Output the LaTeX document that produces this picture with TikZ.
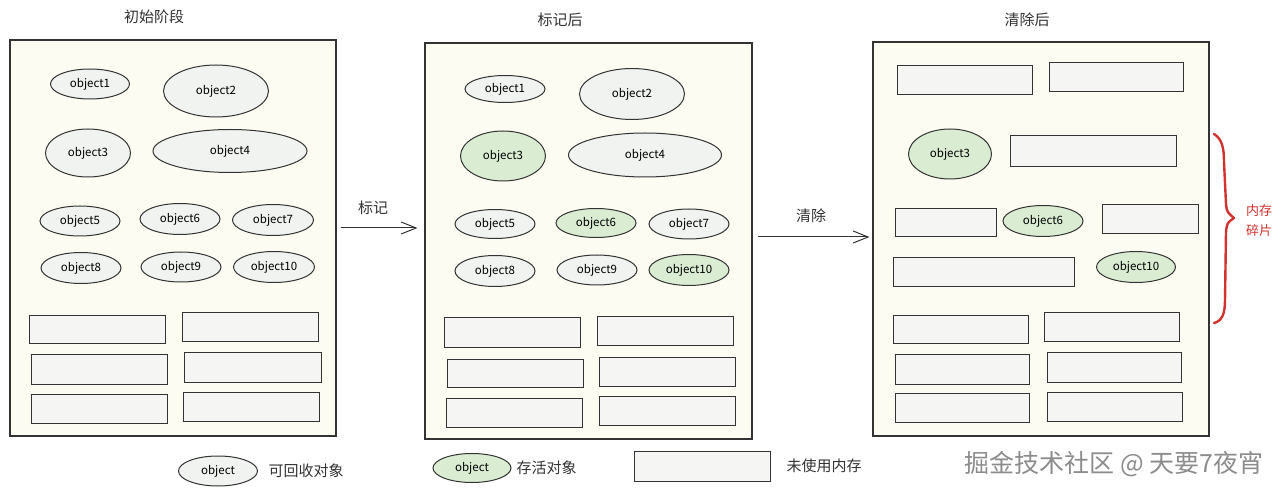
\documentclass[tikz,border=0pt]{standalone}
\usepackage{fontspec}
\setmainfont{Noto Sans CJK SC}
\usetikzlibrary{shapes.geometric,arrows.meta}
\definecolor{panelbg}{HTML}{FDFCF3}
\definecolor{objfill}{HTML}{F0F3F0}
\definecolor{livefill}{HTML}{DAEDD3}
\definecolor{freefill}{HTML}{F5F5F3}
\definecolor{inkc}{HTML}{333333}
\definecolor{bracec}{HTML}{D2332E}
\definecolor{wmark}{HTML}{8C8C8C}
\newcommand{\mkrect}[6]{\node[#2, minimum width={#5-#3}, minimum height={#6-#4}] (#1) at ({(#3+#5)/2},{(#4+#6)/2}) {};}
\newcommand{\mkobj}[7]{\node[#2, minimum width=#5, minimum height=#6] (#1) at (#3,#4) {#7};}
\begin{document}
\begin{tikzpicture}[x=1pt,y=-1pt,
  panel/.style={draw=inkc, line width=1.1pt, fill=panelbg, inner sep=0pt},
  freeblk/.style={draw=inkc, line width=1pt, fill=freefill, inner sep=0pt},
  obj/.style={ellipse, draw=inkc, line width=1pt, fill=objfill, inner sep=0pt, font=\fontsize{11.5}{13}\selectfont},
  live/.style={obj, fill=livefill},
  title/.style={font=\fontsize{15}{17}\selectfont, text=inkc},
  legtext/.style={font=\fontsize{15}{17}\selectfont, text=inkc, anchor=west},
  arr/.style={draw=inkc, line width=1pt, -{Straight Barb[length=15pt,width=12pt,line width=1pt]}},
  bracestyle/.style={draw=bracec, line width=2.4pt, line cap=round, line join=round}
]
\useasboundingbox (0,0) rectangle (1280,494);
\fill[white] (0,0) rectangle (1280,494);

% ---------- titles ----------
\node[title] (t1) at (154,17) {初始阶段};
\node[title] (t2) at (560,20) {标记后};
\node[title] (t3) at (1027,20) {清除后};

% ---------- panel 1 ----------
\mkrect{P1}{panel}{10}{40}{336}{436}
\mkobj{a1}{obj}{90}{84}{79}{30}{object1}
\mkobj{a2}{obj}{216}{91}{105}{52}{object2}
\mkobj{a3}{obj}{88}{153}{85}{48}{object3}
\mkobj{a4}{obj}{230}{151}{154}{43}{object4}
\mkobj{a5}{obj}{80}{221}{80}{30}{object5}
\mkobj{a6}{obj}{180}{219}{80}{31}{object6}
\mkobj{a7}{obj}{273}{220}{81}{31}{object7}
\mkobj{a8}{obj}{81}{268}{80}{31}{object8}
\mkobj{a9}{obj}{181}{267}{80}{30}{object9}
\mkobj{a10}{obj}{274}{267}{81}{31}{object10}
\mkrect{ar1}{freeblk}{29}{316}{165}{344}
\mkrect{ar2}{freeblk}{182}{313}{318}{342}
\mkrect{ar3}{freeblk}{31}{355}{167}{384}
\mkrect{ar4}{freeblk}{184}{353}{321}{382}
\mkrect{ar5}{freeblk}{31}{394}{167}{423}
\mkrect{ar6}{freeblk}{183}{392}{319}{421}

% ---------- panel 2 ----------
\mkrect{P2}{panel}{425}{43}{752}{439}
\mkobj{b1}{obj}{505}{89}{80}{27}{object1}
\mkobj{b2}{obj}{632}{94}{105}{51}{object2}
\mkobj{b3}{live}{503}{156}{85}{50}{object3}
\mkobj{b4}{obj}{645}{155}{153}{44}{object4}
\mkobj{b5}{obj}{495}{224}{80}{29}{object5}
\mkobj{b6}{live}{596}{223}{80}{29}{object6}
\mkobj{b7}{obj}{689}{224}{80}{30}{object7}
\mkobj{b8}{obj}{495}{271}{80}{31}{object8}
\mkobj{b9}{obj}{597}{270}{80}{30}{object9}
\mkobj{b10}{live}{689}{270}{80}{31}{object10}
\mkrect{br1}{freeblk}{444}{318}{580}{348}
\mkrect{br2}{freeblk}{597}{317}{733}{346}
\mkrect{br3}{freeblk}{447}{359}{583}{387}
\mkrect{br4}{freeblk}{599}{357}{735}{386}
\mkrect{br5}{freeblk}{446}{398}{582}{427}
\mkrect{br6}{freeblk}{599}{396}{735}{425}

% ---------- panel 3 ----------
\mkrect{P3}{panel}{873}{42}{1209}{436}
\mkrect{cr1}{freeblk}{897}{66}{1032}{95}
\mkrect{cr2}{freeblk}{1049}{63}{1183}{92}
\mkobj{c3}{live}{950}{154}{83}{50}{object3}
\mkrect{cr3}{freeblk}{1010}{136}{1176}{167}
\mkrect{cr4}{freeblk}{895}{209}{996}{237}
\mkobj{c6}{live}{1043}{221}{80}{31}{object6}
\mkrect{cr5}{freeblk}{1102}{205}{1198}{234}
\mkrect{cr6}{freeblk}{893}{258}{1074}{287}
\mkobj{c10}{live}{1136}{267}{79}{31}{object10}
\mkrect{cr7}{freeblk}{893}{316}{1028}{344}
\mkrect{cr8}{freeblk}{1044}{313}{1179}{342}
\mkrect{cr9}{freeblk}{895}{355}{1029}{384}
\mkrect{cr10}{freeblk}{1047}{353}{1181}{382}
\mkrect{cr11}{freeblk}{895}{393}{1029}{422}
\mkrect{cr12}{freeblk}{1047}{392}{1182}{421}

% ---------- arrows ----------
\coordinate (m1) at (0,228);
\coordinate (m2) at (0,237);
\draw[arr, shorten <=4pt, shorten >=7pt] (P1.east |- m1) -- (P2.west |- m1);
\draw[arr, shorten <=5pt, shorten >=3pt] (P2.east |- m2) -- (P3.west |- m2);
\node[title] (l1) at (373,208) {标记};
\node[title] (l2) at (811,216) {清除};

% ---------- brace ----------
\draw[bracestyle] (1214,134) .. controls (1222,139) and (1224,148) .. (1224,162)
  -- (1226,204) .. controls (1227,212) .. (1234,218)
  .. controls (1227,223) .. (1226,232)
  -- (1225,300) .. controls (1225,314) and (1222,321) .. (1214,323);
\node[font=\fontsize{13}{20}\selectfont, text=bracec, align=center] (frag) at (1259,221) {内存\\碎片};

% ---------- legend ----------
\mkobj{k1}{obj}{218}{471}{79}{30}{object}
\node[legtext] (k1t) at (265,471) {可回收对象};
\mkobj{k2}{live}{472}{468}{78}{29}{object}
\node[legtext] (k2t) at (513,468) {存活对象};
\mkrect{k3}{freeblk}{634}{451}{770}{481}
\node[legtext] (k3t) at (783,466) {未使用内存};

% ---------- watermark ----------
\node[font=\fontsize{25}{28}\selectfont, text=wmark] (wm) at (1114,464) {掘金技术社区 @ 天要7夜宵};
\end{tikzpicture}
\end{document}
